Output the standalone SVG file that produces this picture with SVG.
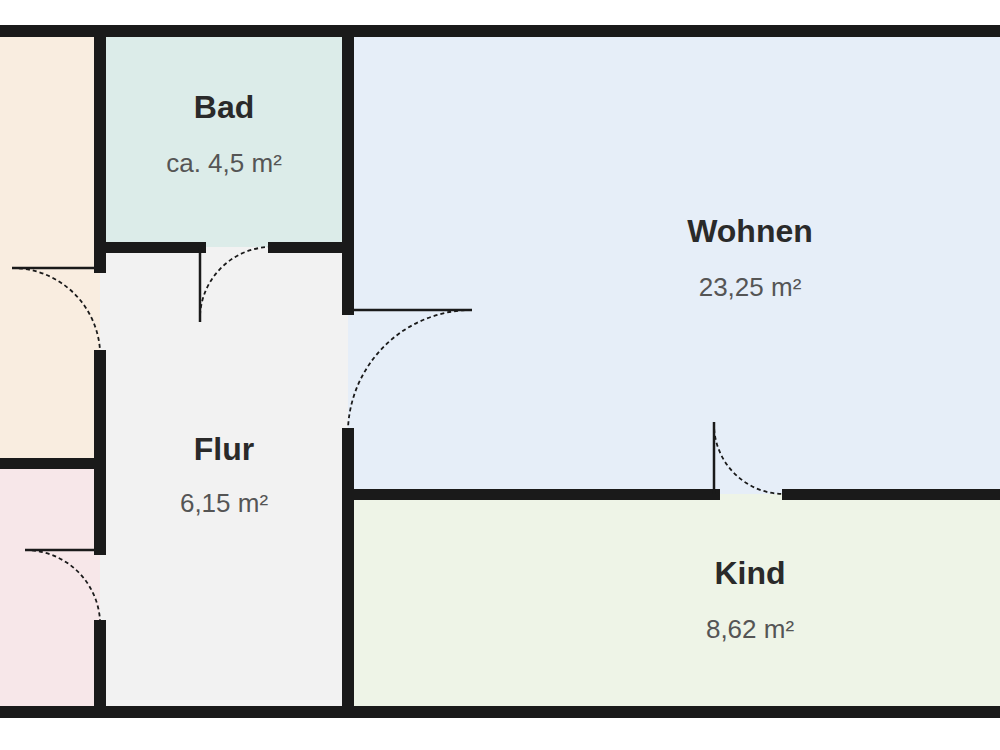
<svg xmlns="http://www.w3.org/2000/svg" width="1000" height="750" viewBox="0 0 1000 750">
<style>
.w{fill:#1a1a1a}
.leaf{stroke:#1a1a1a;stroke-width:2.5;fill:none}
.arc{stroke:#1a1a1a;stroke-width:1.8;fill:none;stroke-dasharray:4 3}
.t{font-family:"Liberation Sans",Arial,sans-serif;text-anchor:middle;fill:#2a2a2a}
.n{font-size:32px;font-weight:bold}
.a{font-size:26px;fill:#555}
</style>
<rect width="1000" height="750" fill="#fff"/>
<g id="rooms">
<rect x="0" y="36" width="100" height="428" fill="#f9ede0"/>
<rect x="0" y="464" width="100" height="250" fill="#f7e7e9"/>
<rect x="100" y="36" width="248" height="211" fill="#dcece9"/>
<rect x="100" y="247" width="248" height="467" fill="#f2f2f2"/>
<rect x="348" y="36" width="652" height="458" fill="#e6eef8"/>
<rect x="348" y="494" width="652" height="220" fill="#eef4e7"/>
</g>
<g id="walls">
<rect class="w" x="0" y="25" width="1000" height="12"/>
<rect class="w" x="0" y="706" width="1000" height="12"/>
<rect class="w" x="94" y="25" width="12" height="248"/>
<rect class="w" x="94" y="350" width="12" height="205"/>
<rect class="w" x="94" y="620" width="12" height="98"/>
<rect class="w" x="0" y="458" width="100" height="11"/>
<rect class="w" x="100" y="242" width="106" height="11"/>
<rect class="w" x="268" y="242" width="80" height="11"/>
<rect class="w" x="342" y="25" width="12" height="290"/>
<rect class="w" x="342" y="428" width="12" height="290"/>
<rect class="w" x="348" y="489" width="372" height="11"/>
<rect class="w" x="782" y="489" width="218" height="11"/>
</g>
<g id="doors">
<path class="leaf" d="M12 268H100"/>
<path class="arc" d="M12 268A88 88 0 0 1 100 350"/>
<path class="leaf" d="M200 247V322"/>
<path class="arc" d="M200 322A72 72 0 0 1 268 247"/>
<path class="leaf" d="M348 310H472"/>
<path class="arc" d="M472 310A124 124 0 0 0 348 428"/>
<path class="leaf" d="M714 422V494"/>
<path class="arc" d="M714 422A70 70 0 0 0 782 494"/>
<path class="leaf" d="M25 550H100"/>
<path class="arc" d="M25 550A75 75 0 0 1 100 620"/>
</g>
<g id="labels">
<text class="t n" x="224" y="118">Bad</text>
<text class="t a" x="224" y="172">ca. 4,5 m²</text>
<text class="t n" x="750" y="242">Wohnen</text>
<text class="t a" x="750" y="296">23,25 m²</text>
<text class="t n" x="224" y="460">Flur</text>
<text class="t a" x="224" y="512">6,15 m²</text>
<text class="t n" x="750" y="584">Kind</text>
<text class="t a" x="750" y="638">8,62 m²</text>
</g>
</svg>
